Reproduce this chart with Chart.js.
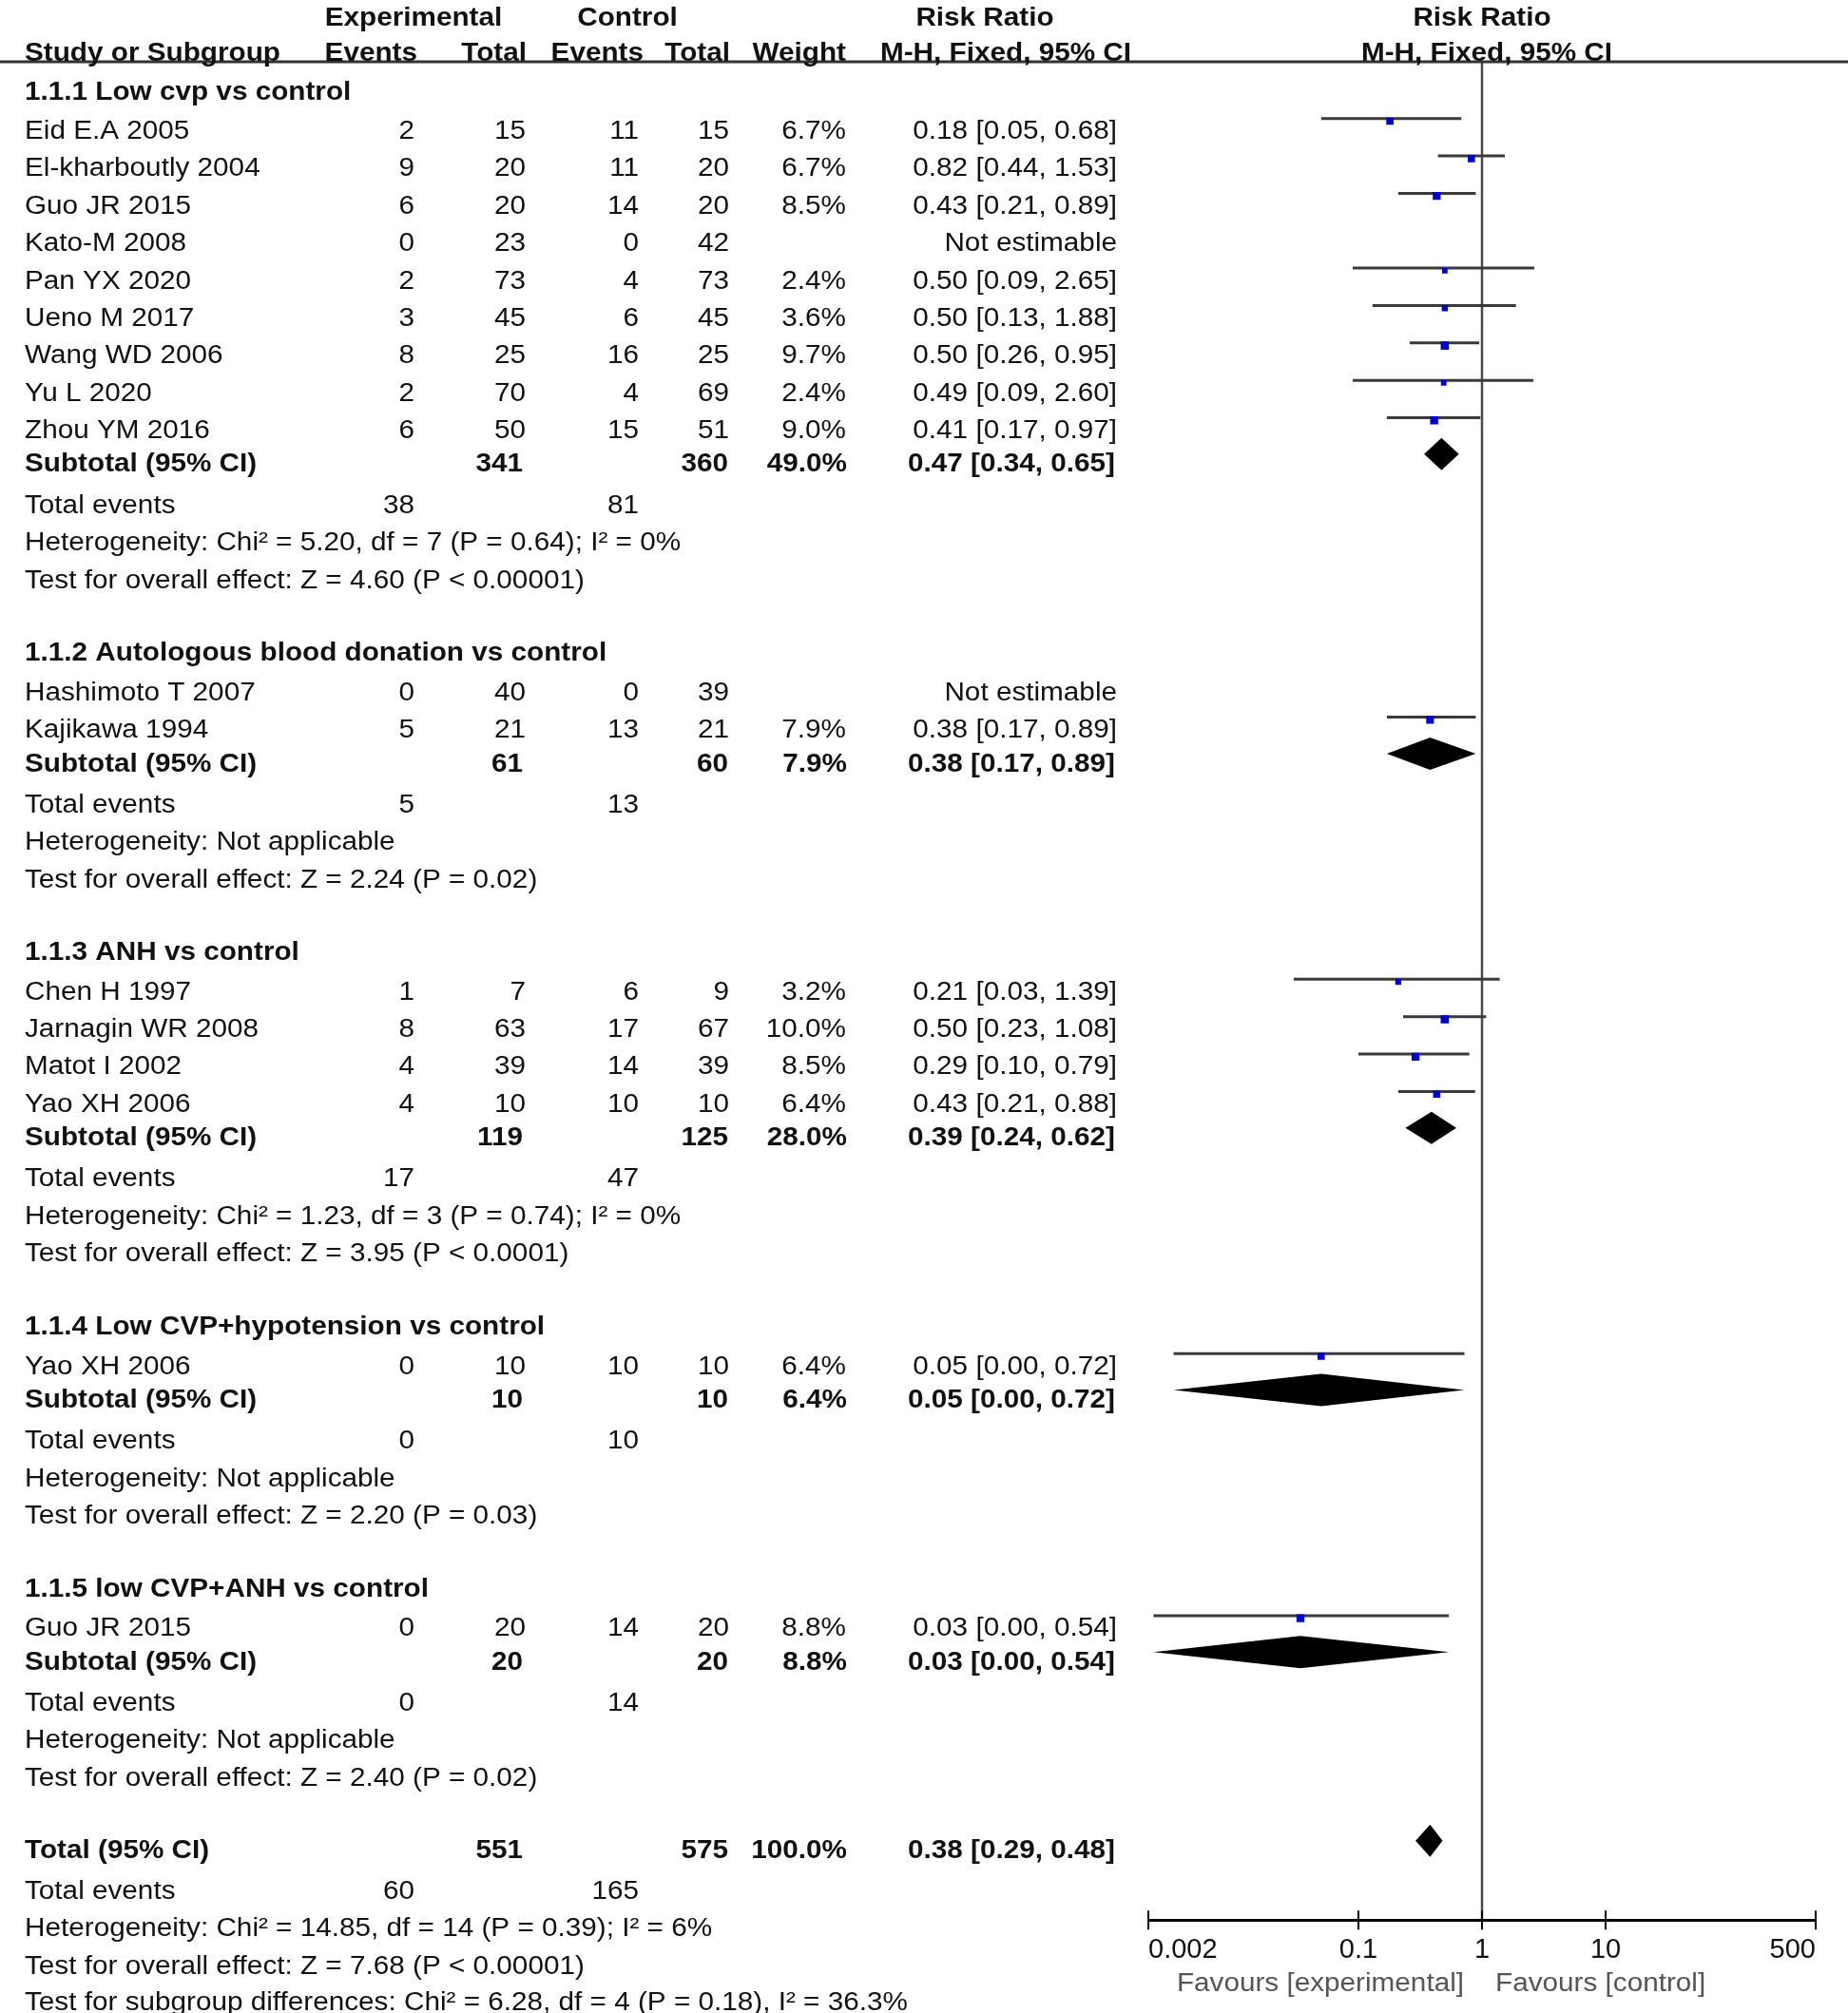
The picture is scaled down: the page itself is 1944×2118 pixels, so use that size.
<!DOCTYPE html>
<html>
<head>
<meta charset="utf-8">
<script src="https://cdn.jsdelivr.net/npm/chart.js@4.4.1/dist/chart.umd.min.js"></script>
<style>
  html, body { margin: 0; padding: 0; background: #fff; }
  #wrap { width: 1944px; height: 2118px; }
</style>
</head>
<body>
<div id="wrap"><canvas id="forest" width="1944" height="2118"></canvas></div>
<script>
// ---- values ----
const groupTitles = [
    "1.1.1 Low cvp vs control",
    "1.1.2 Autologous blood donation vs control",
    "1.1.3 ANH vs control",
    "1.1.4 Low CVP+hypotension vs control",
    "1.1.5 low CVP+ANH vs control"
];

const studyNames = [
    "Eid E.A 2005", "El-kharboutly 2004", "Guo JR 2015", "Kato-M 2008", "Pan YX 2020",
    "Ueno M 2017", "Wang WD 2006", "Yu L 2020", "Zhou YM 2016",
    "Hashimoto T 2007", "Kajikawa 1994",
    "Chen H 1997", "Jarnagin WR 2008", "Matot I 2002", "Yao XH 2006",
    "Yao XH 2006",
    "Guo JR 2015"
];
const studyGroup  = [0, 0, 0, 0, 0, 0, 0, 0, 0, 1, 1, 2, 2, 2, 2, 3, 4];
const expEvents   = [2, 9, 6, 0, 2, 3, 8, 2, 6, 0, 5, 1, 8, 4, 4, 0, 0];
const expTotal    = [15, 20, 20, 23, 73, 45, 25, 70, 50, 40, 21, 7, 63, 39, 10, 10, 20];
const ctrlEvents  = [11, 11, 14, 0, 4, 6, 16, 4, 15, 0, 13, 6, 17, 14, 10, 10, 14];
const ctrlTotal   = [15, 20, 20, 42, 73, 45, 25, 69, 51, 39, 21, 9, 67, 39, 10, 10, 20];
const studyWeight = [6.7, 6.7, 8.5, null, 2.4, 3.6, 9.7, 2.4, 9.0, null, 7.9, 3.2, 10.0, 8.5, 6.4, 6.4, 8.8];
const studyRR     = [0.18, 0.82, 0.43, null, 0.50, 0.50, 0.50, 0.49, 0.41, null, 0.38, 0.21, 0.50, 0.29, 0.43, 0.05, 0.034];
const studyLo     = [0.05, 0.44, 0.21, null, 0.09, 0.13, 0.26, 0.09, 0.17, null, 0.17, 0.03, 0.23, 0.10, 0.21, 0.0032, 0.0022];
const studyHi     = [0.68, 1.53, 0.89, null, 2.65, 1.88, 0.95, 2.60, 0.97, null, 0.89, 1.39, 1.08, 0.79, 0.88, 0.72, 0.54];

const groupExpTotal   = [341, 61, 119, 10, 20];
const groupCtrlTotal  = [360, 60, 125, 10, 20];
const groupWeight     = [49.0, 7.9, 28.0, 6.4, 8.8];
const groupRR         = [0.47, 0.38, 0.39, 0.05, 0.034];
const groupLo         = [0.34, 0.17, 0.24, 0.0032, 0.0022];
const groupHi         = [0.65, 0.89, 0.62, 0.72, 0.54];
const groupExpEvents  = [38, 5, 17, 0, 0];
const groupCtrlEvents = [81, 13, 47, 10, 14];
const groupHet = [
    "Heterogeneity: Chi² = 5.20, df = 7 (P = 0.64); I² = 0%",
    "Heterogeneity: Not applicable",
    "Heterogeneity: Chi² = 1.23, df = 3 (P = 0.74); I² = 0%",
    "Heterogeneity: Not applicable",
    "Heterogeneity: Not applicable"
];
const groupEffect = [
    "Test for overall effect: Z = 4.60 (P < 0.00001)",
    "Test for overall effect: Z = 2.24 (P = 0.02)",
    "Test for overall effect: Z = 3.95 (P < 0.0001)",
    "Test for overall effect: Z = 2.20 (P = 0.03)",
    "Test for overall effect: Z = 2.40 (P = 0.02)"
];

const totalExpTotal = 551, totalCtrlTotal = 575, totalWeight = 100.0;
const totalRR = 0.38, totalLo = 0.29, totalHi = 0.48;
const totalExpEvents = 60, totalCtrlEvents = 165;
const totalHet = "Heterogeneity: Chi² = 14.85, df = 14 (P = 0.39); I² = 6%";
const totalEffect = "Test for overall effect: Z = 7.68 (P < 0.00001)";
const subgroupTest = "Test for subgroup differences: Chi² = 6.28, df = 4 (P = 0.18), I² = 36.3%";

const axisTicks = [0.002, 0.1, 1, 10, 500];
const axisTickLabels = ["0.002", "0.1", "1", "10", "500"];

// ---- layout of the table rows (in "line" units, 1 line ~ 39.6px) ----
const rows = [];
let yPos = 0;
groupTitles.forEach((title, g) => {
    if (g > 0) yPos += 1.93;
    rows.push({ kind: "title", g, y: yPos });
    let first = true;
    studyNames.forEach((name, i) => {
        if (studyGroup[i] !== g) return;
        yPos += first ? 1.048 : 0.992;
        first = false;
        rows.push({ kind: "study", i, y: yPos });
    });
    yPos += 0.896; rows.push({ kind: "subtotal", g, y: yPos });
    yPos += 1.085; rows.push({ kind: "events", g, y: yPos });
    yPos += 0.997; rows.push({ kind: "note", text: groupHet[g], y: yPos });
    yPos += 0.995; rows.push({ kind: "note", text: groupEffect[g], y: yPos });
});
yPos += 1.93;  rows.push({ kind: "total", y: yPos });
yPos += 1.06;  rows.push({ kind: "totalEvents", y: yPos });
yPos += 0.997; rows.push({ kind: "note", text: totalHet, y: yPos });
yPos += 0.995; rows.push({ kind: "note", text: totalEffect, y: yPos });
yPos += 0.97;  rows.push({ kind: "note", text: subgroupTest, y: yPos });

const yMin = -0.707, yMax = 48.58;
const MARK_SHIFT = 0.18;   // squares / diamonds sit a little above the text centre
const LINE_SHIFT = 0.25;

const ciText = (rr, lo, hi) => rr.toFixed(2) + " [" + lo.toFixed(2) + ", " + hi.toFixed(2) + "]";

// ---- datasets ----
const squarePoints = [];
const squareSizes = [];
const ciPoints = [];
rows.filter(r => r.kind === "study").forEach(r => {
    const i = r.i;
    if (studyRR[i] === null) return;
    squarePoints.push({ x: studyRR[i], y: r.y - MARK_SHIFT });
    squareSizes.push((3 + 1.8 * Math.sqrt(studyWeight[i])) / 1.414);
    ciPoints.push({ x: studyLo[i], y: r.y - LINE_SHIFT });
    ciPoints.push({ x: studyHi[i], y: r.y - LINE_SHIFT });
    ciPoints.push({ x: null, y: null });
});

const diamonds = [];
rows.forEach(r => {
    if (r.kind === "subtotal") diamonds.push({ lo: groupLo[r.g], est: groupRR[r.g], hi: groupHi[r.g], y: r.y - MARK_SHIFT });
    if (r.kind === "total") diamonds.push({ lo: totalLo, est: totalRR, hi: totalHi, y: r.y - MARK_SHIFT });
});

// ---- drawing helpers ----
const FONT = '"Liberation Sans", Arial, Helvetica, sans-serif';
const SX = 1.10;
function put(ctx, str, x, y, align, bold, color) {
    ctx.save();
    ctx.font = (bold ? "bold " : "") + "27px " + FONT;
    ctx.fillStyle = color || "#111";
    ctx.textAlign = align;
    ctx.textBaseline = "alphabetic";
    ctx.translate(x, y + 11.5);
    ctx.scale(SX, 1);
    ctx.fillText(str, 0, 0);
    ctx.restore();
}

const COL = { name: 26, expE: 436, expT: 553, ctlE: 672, ctlT: 767, weight: 890, ci: 1175 };

const forestPlugin = {
    id: "forest",
    beforeDatasetsDraw(chart) {
        const { ctx, chartArea, scales } = chart;
        const x1 = scales.x.getPixelForValue(1);
        ctx.save();
        ctx.strokeStyle = "#4a4a4a";
        ctx.lineWidth = 2.5;
        ctx.beginPath();
        ctx.moveTo(x1, chartArea.top);
        ctx.lineTo(x1, chartArea.bottom);
        ctx.stroke();
        ctx.restore();
    },
    afterDatasetsDraw(chart) {
        const { ctx, scales } = chart;
        ctx.save();
        ctx.fillStyle = "#000";
        diamonds.forEach(d => {
            const xl = scales.x.getPixelForValue(d.lo);
            const xm = scales.x.getPixelForValue(d.est);
            const xr = scales.x.getPixelForValue(d.hi);
            const ym = scales.y.getPixelForValue(d.y);
            ctx.beginPath();
            ctx.moveTo(xl, ym);
            ctx.lineTo(xm, ym - 17);
            ctx.lineTo(xr, ym);
            ctx.lineTo(xm, ym + 17);
            ctx.closePath();
            ctx.fill();
        });
        ctx.restore();
    },
    afterDraw(chart) {
        const { ctx, chartArea, scales } = chart;
        const xs = scales.x, ys = scales.y;
        const mid = (chartArea.left + chartArea.right) / 2;

        // header rule
        ctx.save();
        ctx.fillStyle = "#333";
        ctx.fillRect(0, chartArea.top - 1.5, chart.width, 3);
        // upper half of the axis ticks
        ctx.strokeStyle = "#000";
        ctx.lineWidth = 2;
        axisTicks.forEach(v => {
            const px = xs.getPixelForValue(v);
            ctx.beginPath();
            ctx.moveTo(px, chartArea.bottom - 10);
            ctx.lineTo(px, chartArea.bottom);
            ctx.stroke();
        });
        ctx.restore();

        // column headers
        put(ctx, "Experimental", 435, 15, "center", true);
        put(ctx, "Control", 660, 15, "center", true);
        put(ctx, "Risk Ratio", 1036, 15, "center", true);
        put(ctx, "Risk Ratio", mid, 15, "center", true);
        put(ctx, "Study or Subgroup", COL.name, 52, "left", true);
        put(ctx, "Events", 439, 52, "right", true);
        put(ctx, "Total", 554, 52, "right", true);
        put(ctx, "Events", 677, 52, "right", true);
        put(ctx, "Total", 768, 52, "right", true);
        put(ctx, "Weight", COL.weight, 52, "right", true);
        put(ctx, "M-H, Fixed, 95% CI", 1058, 52, "center", true);
        put(ctx, "M-H, Fixed, 95% CI", mid + 5, 52, "center", true);

        rows.forEach(r => {
            const py = ys.getPixelForValue(r.y);
            if (r.kind === "title") {
                put(ctx, groupTitles[r.g], COL.name, py, "left", true);
            } else if (r.kind === "study") {
                const i = r.i;
                put(ctx, studyNames[i], COL.name, py, "left");
                put(ctx, String(expEvents[i]), COL.expE, py, "right");
                put(ctx, String(expTotal[i]), COL.expT, py, "right");
                put(ctx, String(ctrlEvents[i]), COL.ctlE, py, "right");
                put(ctx, String(ctrlTotal[i]), COL.ctlT, py, "right");
                if (studyWeight[i] !== null) {
                    put(ctx, studyWeight[i].toFixed(1) + "%", COL.weight, py, "right");
                    put(ctx, ciText(studyRR[i], studyLo[i], studyHi[i]), COL.ci, py, "right");
                } else {
                    put(ctx, "Not estimable", COL.ci, py, "right");
                }
            } else if (r.kind === "subtotal") {
                const g = r.g;
                put(ctx, "Subtotal (95% CI)", COL.name, py, "left", true);
                put(ctx, String(groupExpTotal[g]), COL.expT - 3, py, "right", true);
                put(ctx, String(groupCtrlTotal[g]), COL.ctlT - 1, py, "right", true);
                put(ctx, groupWeight[g].toFixed(1) + "%", COL.weight + 1, py, "right", true);
                put(ctx, ciText(groupRR[g], groupLo[g], groupHi[g]), COL.ci - 2, py, "right", true);
            } else if (r.kind === "events") {
                put(ctx, "Total events", COL.name, py, "left");
                put(ctx, String(groupExpEvents[r.g]), COL.expE, py, "right");
                put(ctx, String(groupCtrlEvents[r.g]), COL.ctlE, py, "right");
            } else if (r.kind === "total") {
                put(ctx, "Total (95% CI)", COL.name, py, "left", true);
                put(ctx, String(totalExpTotal), COL.expT - 3, py, "right", true);
                put(ctx, String(totalCtrlTotal), COL.ctlT - 1, py, "right", true);
                put(ctx, totalWeight.toFixed(1) + "%", COL.weight + 1, py, "right", true);
                put(ctx, ciText(totalRR, totalLo, totalHi), COL.ci - 2, py, "right", true);
            } else if (r.kind === "totalEvents") {
                put(ctx, "Total events", COL.name, py, "left");
                put(ctx, String(totalExpEvents), COL.expE, py, "right");
                put(ctx, String(totalCtrlEvents), COL.ctlE, py, "right");
            } else {
                put(ctx, r.text, COL.name, py, "left");
            }
        });

        // favours labels under the axis
        const x1 = xs.getPixelForValue(1);
        put(ctx, "Favours [experimental]", x1 - 19, chartArea.bottom + 63, "right", false, "#555");
        put(ctx, "Favours [control]", x1 + 14, chartArea.bottom + 63, "left", false, "#555");
    }
};

const ctx = document.getElementById("forest").getContext("2d");

new Chart(ctx, {
    type: "scatter",
    data: {
        datasets: [
            {
                label: "Study estimate",
                data: squarePoints,
                pointStyle: "rect",
                pointRadius: squareSizes,
                pointHoverRadius: squareSizes,
                backgroundColor: "#0000cc",
                borderWidth: 0,
                order: 0
            },
            {
                label: "95% CI",
                data: ciPoints,
                showLine: true,
                spanGaps: false,
                pointRadius: 0,
                borderColor: "#3a3a3a",
                borderWidth: 3,
                borderCapStyle: "butt",
                order: 1
            }
        ]
    },
    options: {
        responsive: false,
        animation: false,
        devicePixelRatio: 1,
        layout: { padding: { left: 1208, right: 34, top: 65, bottom: 45 } },
        plugins: {
            legend: { display: false },
            tooltip: { enabled: false }
        },
        scales: {
            x: {
                type: "logarithmic",
                min: 0.002,
                max: 500,
                afterBuildTicks: (scale) => {
                    scale.ticks = axisTicks.map(v => ({ value: v }));
                },
                ticks: {
                    autoSkip: false,
                    maxRotation: 0,
                    align: "inner",
                    padding: 4,
                    color: "#111",
                    font: { family: FONT, size: 29 },
                    callback: (value, index) => axisTickLabels[index]
                },
                grid: {
                    drawOnChartArea: false,
                    drawTicks: true,
                    tickLength: 10,
                    color: "#000",
                    lineWidth: 2
                },
                border: { display: true, color: "#000", width: 3 }
            },
            y: {
                type: "linear",
                display: false,
                reverse: true,
                min: yMin,
                max: yMax
            }
        }
    },
    plugins: [forestPlugin]
});
</script>
</body>
</html>
